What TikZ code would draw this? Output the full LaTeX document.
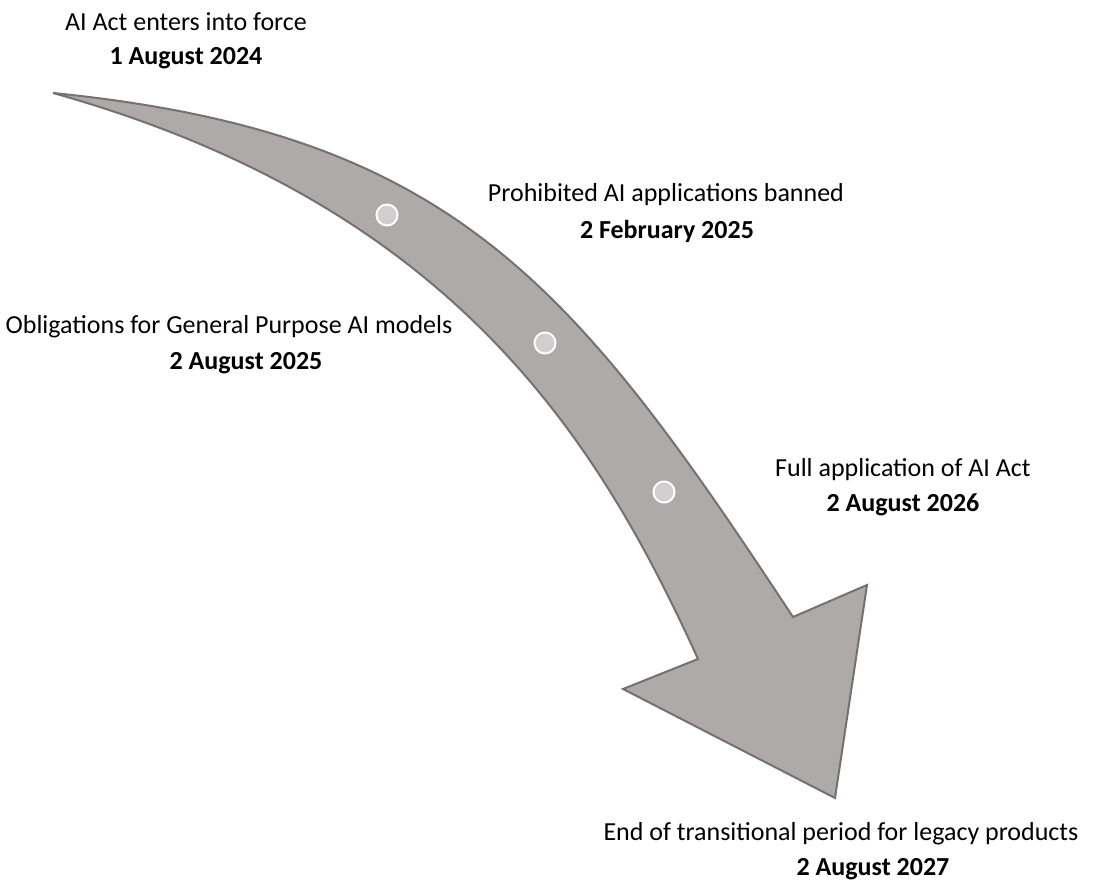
\documentclass[tikz,border=0pt]{standalone}
\usepackage{fontspec}
\setmainfont{Carlito}
\definecolor{arrowfill}{HTML}{AEAAAA}
\definecolor{arrowline}{HTML}{767171}
\definecolor{dotfill}{HTML}{D0CECE}
\begin{document}
\begin{tikzpicture}[x=1pt,y=-1pt,
  label/.style={font=\fontsize{26}{30}\selectfont, inner sep=0pt, anchor=center},
  datelabel/.style={label, font=\fontsize{26}{30}\selectfont\bfseries},
  milestone/.style={circle, draw=white, line width=2pt, fill=dotfill, minimum size=21pt, inner sep=0pt}]
  \useasboundingbox (0,0) rectangle (1109,891);

  % curved timeline arrow: outer edge, head, inner edge back to the tail
  \draw[arrowline, line width=2pt, fill=arrowfill, line join=miter]
    (53,93) .. controls (453,133) and (573,283) .. (793,617)
    -- (867,585) -- (835,798) -- (623,689) -- (698,659)
    .. controls (598,439) and (453,205) .. (53,93)
    -- cycle;

  % milestone dots
  \node[milestone] (m1) at (387,215) {};
  \node[milestone] (m2) at (545,343) {};
  \node[milestone] (m3) at (664,492) {};

  % milestone captions
  \node[label] (t1) at (186,22) {AI Act enters into force};
  \node[datelabel] (d1) at (186,58) {1 August 2024};
  \node[label] (t2) at (666,195) {Prohibited AI applications banned};
  \node[datelabel] (d2) at (667,231) {2 February 2025};
  \node[label] (t3) at (229,327) {Obligations for General Purpose AI models};
  \node[datelabel] (d3) at (246,363) {2 August 2025};
  \node[label] (t4) at (903,470) {Full application of AI Act};
  \node[datelabel] (d4) at (903,505) {2 August 2026};
  \node[label] (t5) at (841,834) {End of transitional period for legacy products};
  \node[datelabel] (d5) at (873,869) {2 August 2027};
\end{tikzpicture}
\end{document}
